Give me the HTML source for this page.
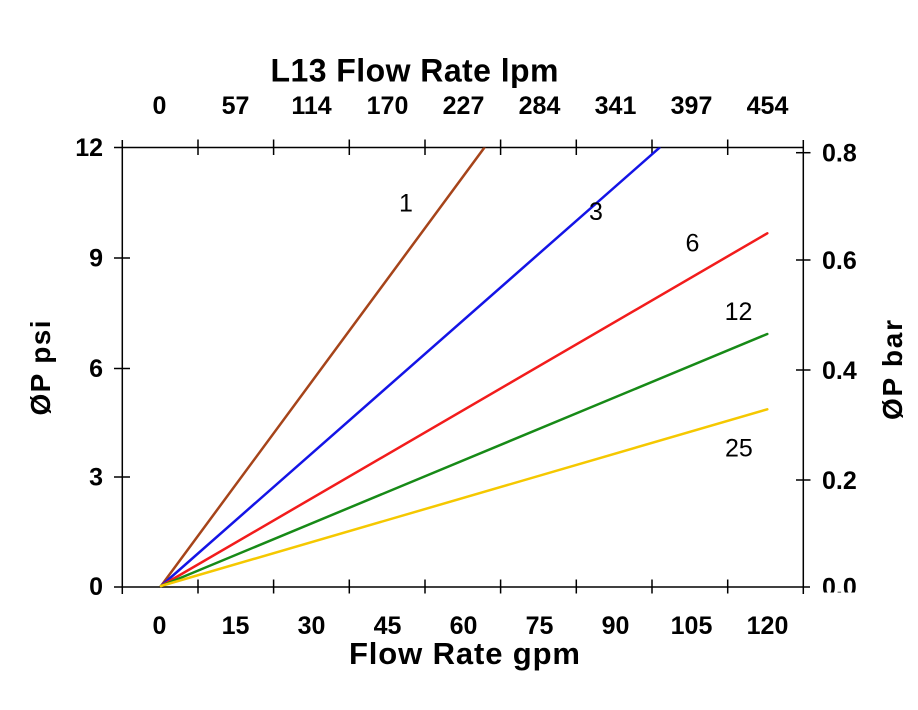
<!DOCTYPE html>
<html>
<head>
<meta charset="utf-8">
<style>
  html,body{margin:0;padding:0;background:#fff;}
  svg{display:block;}
  text{font-family:"Liberation Sans", Arial, sans-serif;}
  .b{font-weight:bold;}
</style>
</head>
<body>
<svg width="918" height="710" viewBox="0 0 918 710" xmlns="http://www.w3.org/2000/svg">
  <defs>
    <clipPath id="plot"><rect x="122" y="147.5" width="682" height="440"/></clipPath>
    <clipPath id="clip00"><rect x="815" y="560" width="80" height="32.5"/></clipPath>
  </defs>
  <rect width="918" height="710" fill="#fff"/>

  <!-- Titles -->
  <text class="b" x="270.5" y="81.7" font-size="32" textLength="288" lengthAdjust="spacing">L13 Flow Rate lpm</text>
  <text class="b" x="349" y="664" font-size="31" textLength="231" lengthAdjust="spacing">Flow Rate gpm</text>
  <text class="b" font-size="28" text-anchor="middle" transform="translate(50,368) rotate(-90)" textLength="95" lengthAdjust="spacing">ØP psi</text>
  <text class="b" font-size="28" text-anchor="middle" transform="translate(902,370) rotate(-90)" textLength="100" lengthAdjust="spacing">ØP bar</text>

  <!-- Axes -->
  <g stroke="#000" stroke-width="1.5" fill="none">
    <line x1="122.3" y1="140" x2="122.3" y2="594"/>
    <line x1="803.3" y1="140" x2="803.3" y2="594"/>
    <line x1="114" y1="147.5" x2="803.3" y2="147.5"/>
    <line x1="114" y1="587" x2="810" y2="587"/>
    <!-- left ticks -->
    <line x1="114" y1="258" x2="130" y2="258"/>
    <line x1="114" y1="368.5" x2="130" y2="368.5"/>
    <line x1="114" y1="477" x2="130" y2="477"/>
    <!-- right ticks -->
    <line x1="796" y1="152.7" x2="810.5" y2="152.7"/>
    <line x1="796" y1="260" x2="810.5" y2="260"/>
    <line x1="796" y1="370" x2="810.5" y2="370"/>
    <line x1="796" y1="480" x2="810.5" y2="480"/>
    <!-- top ticks -->
    <line x1="198" y1="139.5" x2="198" y2="155"/>
    <line x1="273.6" y1="139.5" x2="273.6" y2="155"/>
    <line x1="349.3" y1="139.5" x2="349.3" y2="155"/>
    <line x1="425" y1="139.5" x2="425" y2="155"/>
    <line x1="500.6" y1="139.5" x2="500.6" y2="155"/>
    <line x1="576.3" y1="139.5" x2="576.3" y2="155"/>
    <line x1="652" y1="139.5" x2="652" y2="155"/>
    <line x1="727.7" y1="139.5" x2="727.7" y2="155"/>
    <!-- bottom ticks -->
    <line x1="198" y1="579.5" x2="198" y2="593.5"/>
    <line x1="273.6" y1="579.5" x2="273.6" y2="593.5"/>
    <line x1="349.3" y1="579.5" x2="349.3" y2="593.5"/>
    <line x1="425" y1="579.5" x2="425" y2="593.5"/>
    <line x1="500.6" y1="579.5" x2="500.6" y2="593.5"/>
    <line x1="576.3" y1="579.5" x2="576.3" y2="593.5"/>
    <line x1="652" y1="579.5" x2="652" y2="593.5"/>
    <line x1="727.7" y1="579.5" x2="727.7" y2="593.5"/>
  </g>

  <!-- Top tick labels -->
  <g font-size="25" text-anchor="middle" font-weight="bold">
    <text x="159.5" y="114">0</text>
    <text x="235.5" y="114">57</text>
    <text x="311.5" y="114">114</text>
    <text x="387.5" y="114">170</text>
    <text x="463.5" y="114">227</text>
    <text x="539.5" y="114">284</text>
    <text x="615.5" y="114">341</text>
    <text x="691.5" y="114">397</text>
    <text x="767.5" y="114">454</text>
  </g>
  <!-- Bottom tick labels -->
  <g font-size="25" text-anchor="middle" font-weight="bold">
    <text x="159.5" y="634">0</text>
    <text x="235.5" y="634">15</text>
    <text x="311.5" y="634">30</text>
    <text x="387.5" y="634">45</text>
    <text x="463.5" y="634">60</text>
    <text x="539.5" y="634">75</text>
    <text x="615.5" y="634">90</text>
    <text x="691.5" y="634">105</text>
    <text x="767.5" y="634">120</text>
  </g>
  <!-- Left tick labels -->
  <g font-size="25" text-anchor="end" font-weight="bold">
    <text x="103" y="156">12</text>
    <text x="103" y="266.5">9</text>
    <text x="103" y="377">6</text>
    <text x="103" y="485.5">3</text>
    <text x="103" y="595">0</text>
  </g>
  <!-- Right tick labels -->
  <g font-size="25" font-weight="bold">
    <text x="822" y="161.5">0.8</text>
    <text x="822" y="269">0.6</text>
    <text x="822" y="379">0.4</text>
    <text x="822" y="489">0.2</text>
    <text x="822" y="595.5" clip-path="url(#clip00)">0.0</text>
  </g>

  <!-- Series -->
  <g clip-path="url(#plot)" stroke-width="2.5" fill="none" stroke-linecap="round">
    <line x1="161" y1="586" x2="484.3" y2="147.7" stroke="#A6441A"/>
    <line x1="161" y1="586" x2="659.5" y2="147.7" stroke="#1414E6"/>
    <line x1="161" y1="586" x2="767.3" y2="233.3" stroke="#F21C1C"/>
    <line x1="161" y1="586" x2="767.3" y2="334" stroke="#178A17"/>
    <line x1="161" y1="586" x2="767.3" y2="409.3" stroke="#F5C800"/>
  </g>

  <!-- Series labels -->
  <g font-size="25">
    <text x="399" y="211.7">1</text>
    <text x="589" y="220">3</text>
    <text x="685.5" y="251.7">6</text>
    <text x="724.6" y="320">12</text>
    <text x="725" y="456.7">25</text>
  </g>
</svg>
</body>
</html>
